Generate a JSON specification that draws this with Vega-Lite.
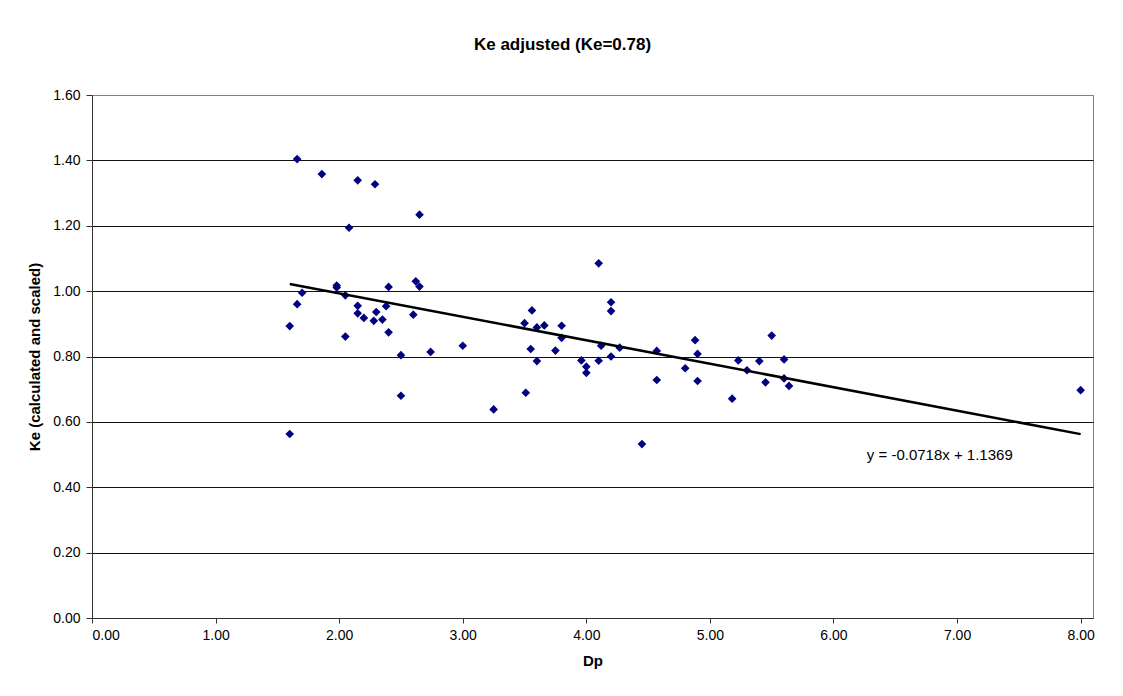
{
  "$schema": "https://vega.github.io/schema/vega-lite/v6.json",
  "width": 1001,
  "height": 523,
  "autosize": {"type": "none"},
  "padding": {"left": 92, "top": 95, "right": 30, "bottom": 78},
  "background": "white",
  "title": {"text": "Ke adjusted (Ke=0.78)", "font": "Liberation Sans", "fontSize": 17, "fontWeight": "bold", "color": "black", "anchor": "middle", "dx": -30, "offset": 34},
  "config": {
    "view": {"stroke": "#808080", "strokeWidth": 1},
    "axis": {"labelFont": "Liberation Sans", "labelFontSize": 14, "labelColor": "black", "titleFont": "Liberation Sans", "titleFontSize": 15, "titleFontWeight": "bold", "titleColor": "black", "domainColor": "#333333", "tickColor": "#333333", "tickSize": 5}
  },
  "datasets": {
    "points": [
      {"Dp": 1.66, "Ke": 1.404}, {"Dp": 1.86, "Ke": 1.358}, {"Dp": 2.15, "Ke": 1.339}, {"Dp": 2.29, "Ke": 1.327},
      {"Dp": 2.65, "Ke": 1.234}, {"Dp": 2.08, "Ke": 1.194}, {"Dp": 1.98, "Ke": 1.017}, {"Dp": 1.98, "Ke": 1.011},
      {"Dp": 1.70, "Ke": 0.995}, {"Dp": 1.66, "Ke": 0.960}, {"Dp": 1.60, "Ke": 0.893}, {"Dp": 1.60, "Ke": 0.563},
      {"Dp": 2.05, "Ke": 0.987}, {"Dp": 2.40, "Ke": 1.013}, {"Dp": 2.62, "Ke": 1.030}, {"Dp": 2.65, "Ke": 1.014},
      {"Dp": 2.15, "Ke": 0.955}, {"Dp": 2.38, "Ke": 0.954}, {"Dp": 2.15, "Ke": 0.932}, {"Dp": 2.20, "Ke": 0.918},
      {"Dp": 2.30, "Ke": 0.936}, {"Dp": 2.28, "Ke": 0.909}, {"Dp": 2.35, "Ke": 0.913}, {"Dp": 2.60, "Ke": 0.928},
      {"Dp": 2.40, "Ke": 0.874}, {"Dp": 2.05, "Ke": 0.861}, {"Dp": 2.50, "Ke": 0.804}, {"Dp": 2.74, "Ke": 0.814},
      {"Dp": 2.50, "Ke": 0.680}, {"Dp": 3.00, "Ke": 0.833}, {"Dp": 3.25, "Ke": 0.638}, {"Dp": 3.51, "Ke": 0.689},
      {"Dp": 3.50, "Ke": 0.902}, {"Dp": 3.56, "Ke": 0.941}, {"Dp": 3.55, "Ke": 0.823}, {"Dp": 3.60, "Ke": 0.889},
      {"Dp": 3.60, "Ke": 0.786}, {"Dp": 3.66, "Ke": 0.895}, {"Dp": 3.75, "Ke": 0.818}, {"Dp": 3.80, "Ke": 0.894},
      {"Dp": 3.80, "Ke": 0.857}, {"Dp": 3.96, "Ke": 0.788}, {"Dp": 4.00, "Ke": 0.769}, {"Dp": 4.00, "Ke": 0.750},
      {"Dp": 4.10, "Ke": 1.085}, {"Dp": 4.10, "Ke": 0.787}, {"Dp": 4.12, "Ke": 0.833}, {"Dp": 4.20, "Ke": 0.966},
      {"Dp": 4.20, "Ke": 0.939}, {"Dp": 4.20, "Ke": 0.800}, {"Dp": 4.27, "Ke": 0.827}, {"Dp": 4.57, "Ke": 0.817},
      {"Dp": 4.57, "Ke": 0.728}, {"Dp": 4.45, "Ke": 0.532}, {"Dp": 4.80, "Ke": 0.764}, {"Dp": 4.88, "Ke": 0.850},
      {"Dp": 4.90, "Ke": 0.808}, {"Dp": 4.90, "Ke": 0.725}, {"Dp": 5.18, "Ke": 0.671}, {"Dp": 5.23, "Ke": 0.788},
      {"Dp": 5.30, "Ke": 0.758}, {"Dp": 5.40, "Ke": 0.786}, {"Dp": 5.45, "Ke": 0.721}, {"Dp": 5.50, "Ke": 0.864},
      {"Dp": 5.60, "Ke": 0.791}, {"Dp": 5.60, "Ke": 0.733}, {"Dp": 5.64, "Ke": 0.710}, {"Dp": 8.00, "Ke": 0.697}
    ],
    "trend": [
      {"Dp": 1.6, "Ke": 1.0220},
      {"Dp": 8.0, "Ke": 0.5625}
    ],
    "eq": [
      {"label": "y = -0.0718x + 1.1369"}
    ]
  },
  "layer": [
    {
      "data": {"name": "points"},
      "mark": {"type": "point", "shape": "diamond", "filled": true, "color": "#000080", "opacity": 1, "size": 75},
      "encoding": {
        "x": {"field": "Dp", "type": "quantitative", "scale": {"domain": [0, 8.1], "nice": false, "zero": false},
          "axis": {"values": [0, 1, 2, 3, 4, 5, 6, 7, 8], "format": ".2f", "title": "Dp", "grid": false, "labelPadding": 5, "titlePadding": 11}},
        "y": {"field": "Ke", "type": "quantitative", "scale": {"domain": [0, 1.6], "nice": false},
          "axis": {"values": [0, 0.2, 0.4, 0.6, 0.8, 1.0, 1.2, 1.4, 1.6], "format": ".2f", "title": "Ke (calculated and scaled)", "grid": true,
            "gridColor": {"condition": {"test": "datum.value >= 1.6", "value": "#808080"}, "value": "#111111"}, "gridWidth": 1, "labelPadding": 6, "titlePadding": 10, "tickSize": 6}}
      }
    },
    {
      "data": {"name": "trend"},
      "mark": {"type": "line", "color": "black", "strokeWidth": 2.5},
      "encoding": {
        "x": {"field": "Dp", "type": "quantitative"},
        "y": {"field": "Ke", "type": "quantitative"}
      }
    },
    {
      "data": {"name": "eq"},
      "mark": {"type": "text", "font": "Liberation Sans", "fontSize": 15, "color": "black", "align": "center", "baseline": "middle"},
      "encoding": {
        "x": {"datum": 6.86, "type": "quantitative"},
        "y": {"datum": 0.5, "type": "quantitative"},
        "text": {"field": "label"}
      }
    }
  ]
}
